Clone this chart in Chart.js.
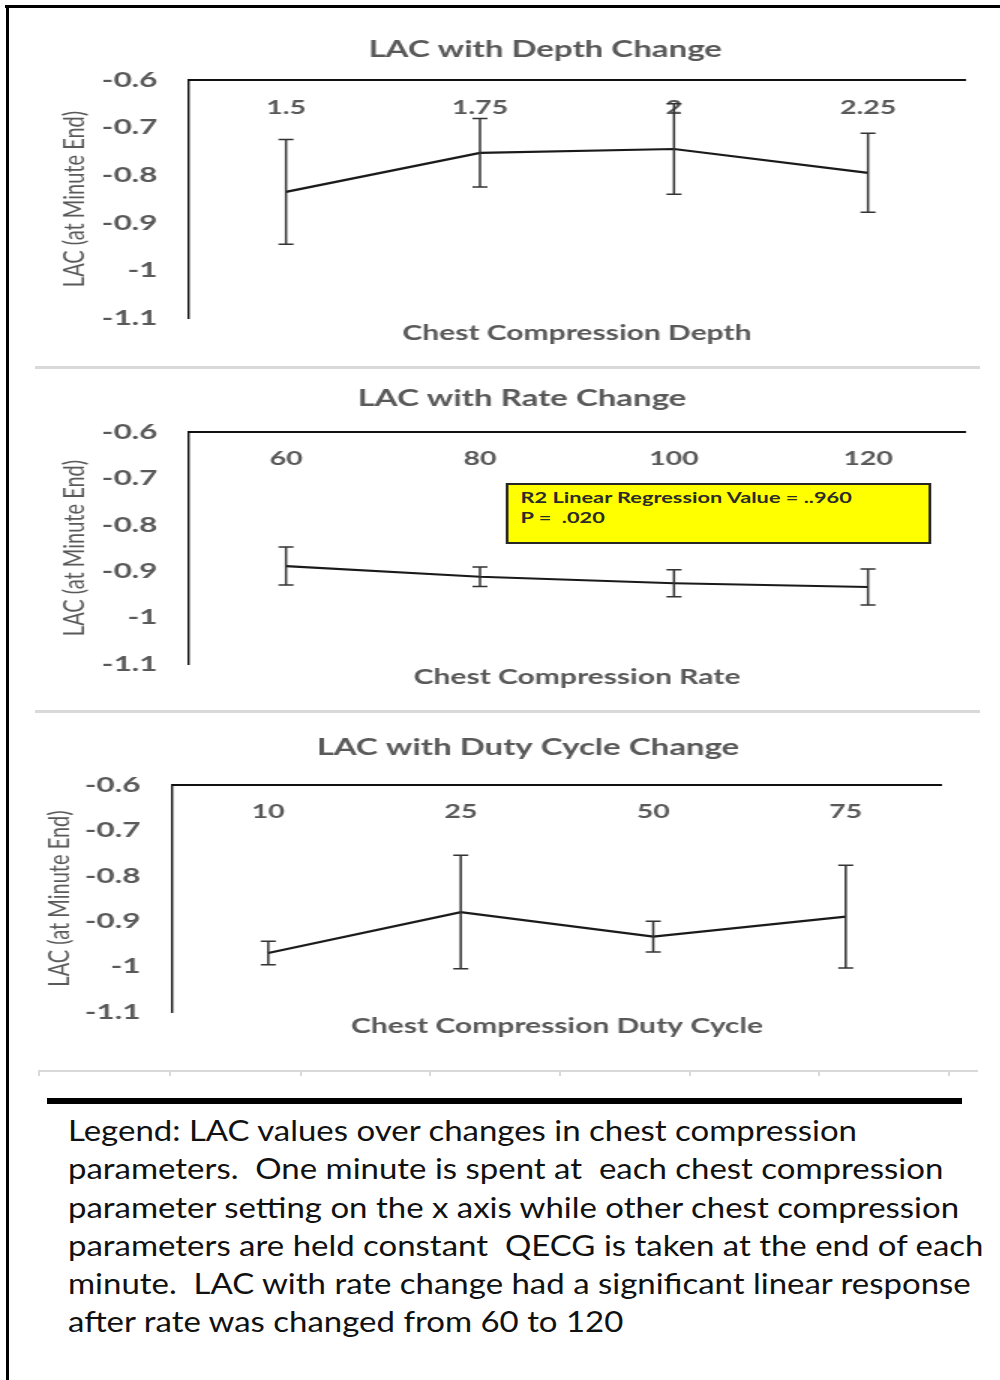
<!DOCTYPE html>
<html>
<head>
<meta charset="utf-8">
<title>LAC with chest compression changes</title>
<script src="https://cdn.jsdelivr.net/npm/chart.js@4.4.1/dist/chart.umd.min.js"></script>
<style>
  html, body { margin: 0; padding: 0; background: #fff; }
  body { width: 1000px; height: 1380px; overflow: hidden; position: relative; }
  .wrap { position: absolute; left: 0; transform: scaleX(1.5); transform-origin: 0 0; }
  .wrap canvas { display: block; }
  .rule { position: absolute; background: #d9d9d9; }
  .tick { position: absolute; top: 0; width: 2px; height: 6px; background: #d9d9d9; }
  .note { position: absolute; box-sizing: border-box; background: #ffff00; border: 2px solid #262626;
          font: bold 14.5px Lato, sans-serif; color: #2b2b2b; padding: 3px 0 0 8px; line-height: 20px; white-space: pre; }
  .frame { position: absolute; background: #000; }
  #caption { position: absolute; left: 68px; top: 1111px; font: 28px Lato, sans-serif; line-height: 38.3px;
             white-space: pre; color: #111; transform: scaleX(1.177); transform-origin: 0 0; }
</style>
</head>
<body>

<div class="wrap" style="top:0px"><canvas id="depthChart" width="727" height="362"></canvas></div>
<div class="wrap" style="top:365px">
  <canvas id="rateChart" width="696" height="342"></canvas>
  <div class="note" style="left:337px; top:118px; width:284px; height:61px;">R2 Linear Regression Value = ..960
P =  .020</div>
</div>
<div class="wrap" style="top:715px"><canvas id="dutyChart" width="704" height="350"></canvas></div>

<div class="rule" style="left:35px; top:366px; width:945px; height:3px;"></div>
<div class="rule" style="left:35px; top:710px; width:945px; height:3px;"></div>
<div class="rule" id="lastRule" style="left:38px; top:1070px; width:940px; height:2px;"></div>

<div class="frame" style="left:47px; top:1098px; width:915px; height:6px;"></div>

<div id="caption">Legend: LAC values over changes in chest compression
parameters.  One minute is spent at  each chest compression
parameter setting on the x axis while other chest compression
parameters are held constant  QECG is taken at the end of each
minute.  LAC with rate change had a significant linear response
after rate was changed from 60 to 120</div>

<div class="frame" style="left:5px; top:5px; width:995px; height:3px;"></div>
<div class="frame" style="left:6px; top:5px; width:3px; height:1375px;"></div>

<script>
// y axis range shared by all three panels
const yMin = -1.1;
const yMax = -0.6;
const yStep = 0.1;
const yTickLabels = ['-1.1', '-1', '-0.9', '-0.8', '-0.7', '-0.6'];

// LAC with depth change
const depthLabels = ['1.5', '1.75', '2', '2.25'];
const depthLAC = [-0.835, -0.753, -0.745, -0.795];
const depthErr = [0.110, 0.072, 0.095, 0.083];

// LAC with rate change
const rateLabels = ['60', '80', '100', '120'];
const rateLAC = [-0.889, -0.912, -0.926, -0.934];
const rateErr = [0.041, 0.021, 0.029, 0.039];

// LAC with duty cycle change
const dutyLabels = ['10', '25', '50', '75'];
const dutyLAC = [-0.970, -0.880, -0.934, -0.890];
const dutyErr = [0.026, 0.125, 0.034, 0.113];

// little tick marks on the faint rule under the last panel
const rule = document.getElementById('lastRule');
[0, 131, 262, 391, 521, 651, 780, 910].forEach(function (x) {
  const t = document.createElement('div');
  t.className = 'tick';
  t.style.left = x + 'px';
  rule.appendChild(t);
});

Chart.defaults.font.family = 'Lato, sans-serif';
Chart.defaults.color = '#595959';

// error bars drawn through the chart scales
const errorBars = {
  id: 'errorBars',
  afterDatasetsDraw(chart, args, opts) {
    const ctx = chart.ctx;
    const x = chart.scales.x;
    const y = chart.scales.y;
    const vals = chart.data.datasets[0].data;
    ctx.save();
    ctx.strokeStyle = opts.color;
    ctx.lineWidth = opts.width;
    vals.forEach(function (v, i) {
      const px = x.getPixelForValue(i);
      const top = y.getPixelForValue(v + opts.errors[i]);
      const bot = y.getPixelForValue(v - opts.errors[i]);
      ctx.beginPath();
      ctx.moveTo(px, top); ctx.lineTo(px, bot);
      ctx.moveTo(px - opts.cap, top); ctx.lineTo(px + opts.cap, top);
      ctx.moveTo(px - opts.cap, bot); ctx.lineTo(px + opts.cap, bot);
      ctx.stroke();
    });
    ctx.restore();
  }
};

// g: layout of one panel in canvas pixels (canvas is stretched 1.5x sideways)
function makeChart(id, titleText, xTitle, labels, values, errors, g) {
  const tl = 22 * 1.2, xl = 20 * 1.2, yl = 20 * 1.2;
  const titleTop = g.titleY - tl / 2;
  return new Chart(document.getElementById(id), {
    type: 'line',
    data: {
      labels: labels,
      datasets: [{
        data: values,
        borderColor: '#1a1a1a',
        borderWidth: 2.2,
        pointRadius: 0,
        tension: 0,
        xAxisID: 'x',
        yAxisID: 'y'
      }]
    },
    plugins: [errorBars],
    options: {
      responsive: false,
      animation: false,
      events: [],
      layout: { padding: 0 },
      plugins: {
        legend: { display: false },
        tooltip: { enabled: false },
        title: {
          display: true,
          text: titleText,
          color: '#595959',
          font: { size: 22, weight: 'bold' },
          padding: { top: titleTop, bottom: g.top - titleTop - tl }
        },
        errorBars: { errors: errors, color: '#333', width: 1.5, cap: 5 }
      },
      scales: {
        x: {
          type: 'category',
          position: { y: yMax },
          offset: true,
          grid: { display: false, drawTicks: false },
          border: { display: true, color: '#111', width: 2 },
          ticks: { padding: g.labelPad, color: '#595959', font: { size: 19, weight: 'bold' } }
        },
        x2: {
          type: 'category',
          axis: 'x',
          labels: labels,
          position: 'bottom',
          offset: true,
          grid: { display: false, drawTicks: false },
          border: { display: false },
          ticks: { display: false },
          title: {
            display: true,
            text: xTitle,
            color: '#595959',
            font: { size: 20, weight: 'bold' },
            padding: { top: 0, bottom: g.H - g.xTitleY - xl / 2 }
          },
          afterFit: function (s) { s.height = g.H - g.bottom; }
        },
        y: {
          type: 'linear',
          position: 'left',
          min: yMin,
          max: yMax,
          grid: { display: false, drawTicks: false },
          border: { display: true, color: '#111', width: 1.4 },
          ticks: {
            stepSize: yStep,
            padding: 21,
            color: '#595959',
            font: { size: 21, weight: 'bold' },
            callback: function (v, i) { return yTickLabels[i] !== undefined ? yTickLabels[i] : String(Number(v.toFixed(1))); }
          },
          title: {
            display: true,
            text: 'LAC (at Minute End)',
            color: '#595959',
            font: { size: 20 },
            padding: { top: g.yTitleX - yl / 2, bottom: 0 }
          },
          afterFit: function (s) { s.width = g.left; }
        },
        yr: {
          type: 'linear',
          axis: 'y',
          position: 'right',
          grid: { display: false, drawTicks: false },
          border: { display: false },
          ticks: { display: false },
          afterFit: function (s) { s.width = g.W - g.right; }
        }
      }
    }
  });
}

makeChart('depthChart', 'LAC with Depth Change', 'Chest Compression Depth',
  depthLabels, depthLAC, depthErr,
  { W: 727, H: 362, titleY: 50, top: 80, bottom: 318, xTitleY: 334, labelPad: 16, left: 126, right: 643.33, yTitleX: 50 });

makeChart('rateChart', 'LAC with Rate Change', 'Chest Compression Rate',
  rateLabels, rateLAC, rateErr,
  { W: 696, H: 342, titleY: 34, top: 67, bottom: 299, xTitleY: 313, labelPad: 15, left: 126, right: 643.33, yTitleX: 50 });

makeChart('dutyChart', 'LAC with Duty Cycle Change', 'Chest Compression Duty Cycle',
  dutyLabels, dutyLAC, dutyErr,
  { W: 704, H: 350, titleY: 33, top: 70, bottom: 297, xTitleY: 312, labelPad: 15, left: 114.67, right: 628, yTitleX: 40 });
</script>
</body>
</html>
